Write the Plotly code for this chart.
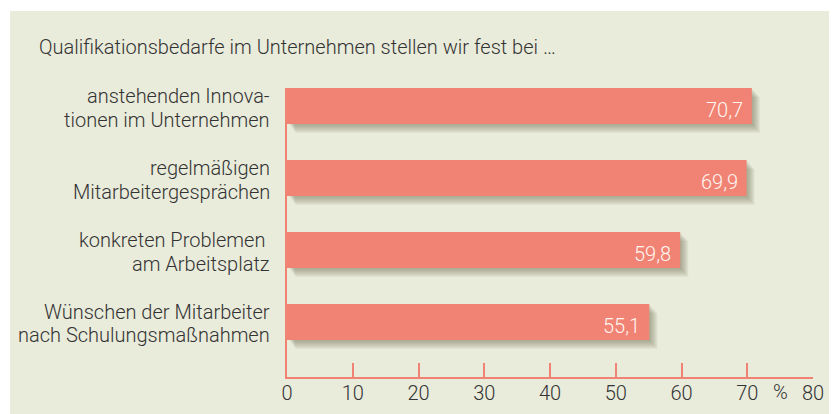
import plotly.graph_objects as go

categories = [
    "anstehenden Innova-<br>tionen im Unternehmen",
    "regelmäßigen<br>Mitarbeitergesprächen",
    "konkreten Problemen <br>am Arbeitsplatz",
    "Wünschen der Mitarbeiter<br>nach Schulungsmaßnahmen",
]
values = [70.7, 69.9, 59.8, 55.1]
x_ticks = [0, 10, 20, 30, 40, 50, 60, 70, 80]
title_text = "Qualifikationsbedarfe im Unternehmen stellen wir fest bei …"
unit_text = "%"

BAR = "#f08373"
BG = "#e9ebdb"
TXT = "#333333"
FONT = "Roboto"
FW = 300

# page body has an 8px margin, so the figure is 8px smaller than the window
W, H = 829, 406
ML, MR, MT, MB = 279, 24, 80, 37
pw = W - ML - MR
ph = H - MT - MB
ypos = [3, 2, 1, 0]
bw = 0.5
ymin, ymax = -0.764, ypos[0] + bw / 2
px_x = 80 / pw
px_y = (ymax - ymin) / ph

fig = go.Figure()
fig.add_trace(go.Bar(
    x=values, y=ypos, orientation="h", width=bw,
    marker=dict(color=BAR, line=dict(width=0)),
    hoverinfo="skip", showlegend=False,
))

shapes = []
# beige panel
shapes.append(dict(type="rect", xref="paper", yref="paper",
                   x0=(2 - ML) / pw, x1=(W + 20 - ML) / pw,
                   y0=-(MB + 20) / ph, y1=(H - MB - 3) / ph,
                   fillcolor=BG, line=dict(width=0), layer="below"))
# soft shadows
for v, y in zip(values, ypos):
    for k in range(1, 10):
        shapes.append(dict(type="rect", xref="x", yref="y",
                           x0=(2 + k * 0.7) * px_x, x1=v + k * 0.9 * px_x,
                           y0=y - bw / 2 - k * px_y, y1=y + bw / 2 - k * px_y,
                           fillcolor="rgba(100,105,80,0.065)", line=dict(width=0),
                           layer="below"))

annotations = [
    dict(text=title_text, xref="paper", yref="paper",
         x=(29 - ML) / pw, y=(H - MB - 39) / ph, xanchor="left", yanchor="middle",
         showarrow=False, font=dict(family=FONT, size=20, color=TXT, weight=FW)),
    dict(text=unit_text, xref="x", yref="paper", x=75, y=-15 / ph,
         xanchor="center", yanchor="middle", showarrow=False,
         font=dict(family=FONT, size=20, color=TXT, weight=FW)),
]
# category labels, one annotation per line
for cat, y in zip(categories, ypos):
    lines = cat.split("<br>")
    for i, line in enumerate(lines):
        annotations.append(dict(text=line.replace(" ", "&nbsp;"), xref="paper", yref="y",
                                x=-15 / pw, y=y, xanchor="right", yanchor="middle",
                                yshift=10 - 23.5 * i, showarrow=False,
                                font=dict(family=FONT, size=20, color=TXT, weight=FW)))
# value labels
for v, y in zip(values, ypos):
    annotations.append(dict(text=f"{v:.1f}".replace(".", ","), xref="x", yref="y",
                            x=v, y=y, xanchor="right", yanchor="middle",
                            xshift=-7, yshift=-4, showarrow=False,
                            font=dict(family=FONT, size=20, color="#fff6f2", weight=FW)))

fig.update_layout(
    width=W, height=H, template="none",
    margin=dict(l=ML, r=MR, t=MT, b=MB, pad=0),
    paper_bgcolor="white", plot_bgcolor="rgba(0,0,0,0)",
    shapes=shapes, annotations=annotations,
    font=dict(family=FONT, color=TXT, weight=FW),
    xaxis=dict(range=[0, 80], tickvals=x_ticks, ticktext=[str(t) for t in x_ticks],
               showgrid=False, zeroline=False, showline=True, linecolor=BAR, linewidth=2,
               ticks="inside", ticklen=14, tickwidth=2, tickcolor=BAR,
               ticklabelstandoff=-3,
               tickfont=dict(family=FONT, size=20, color=TXT, weight=FW),
               automargin=False, fixedrange=True),
    yaxis=dict(range=[ymin, ymax], tickvals=ypos, showticklabels=False,
               showgrid=False, zeroline=False, showline=True, linecolor=BAR, linewidth=2,
               ticks="", automargin=False, fixedrange=True),
)

fig.write_html("out.html", config={"displayModeBar": False})
